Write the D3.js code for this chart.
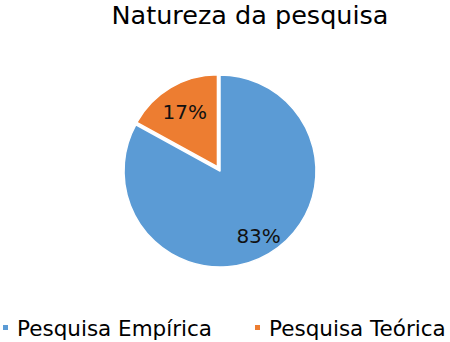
<!DOCTYPE html>
<html>
<head>
<meta charset="utf-8">
<script src="https://cdn.jsdelivr.net/npm/d3@7"></script>
<style>
  body { margin: 0; background: #fff; }
  svg { display: block; }
</style>
</head>
<body>
<div id="chart"></div>
<script>
// dados do gráfico
const categories = ['Pesquisa Empírica', 'Pesquisa Teórica'];
const values = [83, 17];
const colors = ['#5B9BD5', '#ED7D31'];
const title = 'Natureza da pesquisa';

const width = 450, height = 342;
const cx = 220, cy = 171, radius = 96;
const font = '"DejaVu Sans", Verdana, sans-serif';

const svg = d3.select('#chart')
    .append('svg')
    .attr('width', width)
    .attr('height', height);

// título
svg.append('text')
    .attr('x', 250)
    .attr('y', 24)
    .attr('text-anchor', 'middle')
    .attr('font-family', font)
    .attr('font-size', '25.5px')
    .attr('fill', '#000')
    .text(title);

const data = categories.map((c, i) => ({ name: c, value: values[i], color: colors[i] }));
const total = d3.sum(values);
const angle = d3.scaleLinear().domain([0, total]).range([0, 2 * Math.PI]);

// empírica: do topo no sentido horário até 83%; teórica: o resto
let acc = 0;
const slices = data.map(d => {
    const s = { ...d, startAngle: angle(acc), endAngle: angle(acc + d.value) };
    acc += d.value;
    return s;
});

const explode = [0, 5];
const radii = [radius, radius - 4];

const g = svg.append('g').attr('transform', `translate(${cx},${cy})`);

function shift(d, k) {
    const mid = (d.startAngle + d.endAngle) / 2;
    return [Math.sin(mid) * k, -Math.cos(mid) * k];
}

g.selectAll('.slice')
    .data(slices)
    .enter()
    .append('path')
    .attr('class', 'slice')
    .attr('transform', (d, i) => `translate(${shift(d, explode[i])})`)
    .attr('d', (d, i) => d3.arc().innerRadius(0).outerRadius(radii[i])(d))
    .attr('fill', d => d.color)
    .attr('stroke', '#fff')
    .attr('stroke-width', 1.5)
    .attr('stroke-linejoin', 'round');

// rótulos de porcentagem
const labelR = [0.79 * radius, 0.72 * radius];
g.selectAll('.lbl')
    .data(slices)
    .enter()
    .append('text')
    .attr('class', 'lbl')
    .attr('x', (d, i) => shift(d, labelR[i])[0])
    .attr('y', (d, i) => shift(d, labelR[i])[1])
    .attr('text-anchor', 'middle')
    .attr('dominant-baseline', 'central')
    .attr('font-family', font)
    .attr('font-size', '20px')
    .attr('fill', '#111')
    .text(d => Math.round(d.value / total * 100) + '%');

// legenda
const legendX = [2, 254];
const legend = svg.selectAll('.leg')
    .data(data)
    .enter()
    .append('g')
    .attr('class', 'leg')
    .attr('transform', (d, i) => `translate(${legendX[i]},328)`);

legend.append('rect')
    .attr('x', 1)
    .attr('y', -3)
    .attr('width', 5)
    .attr('height', 5)
    .attr('fill', d => d.color);

legend.append('text')
    .attr('x', 15)
    .attr('y', 0.5)
    .attr('dominant-baseline', 'central')
    .attr('font-family', font)
    .attr('font-size', '21.5px')
    .attr('fill', '#000')
    .text(d => d.name);
</script>
</body>
</html>
